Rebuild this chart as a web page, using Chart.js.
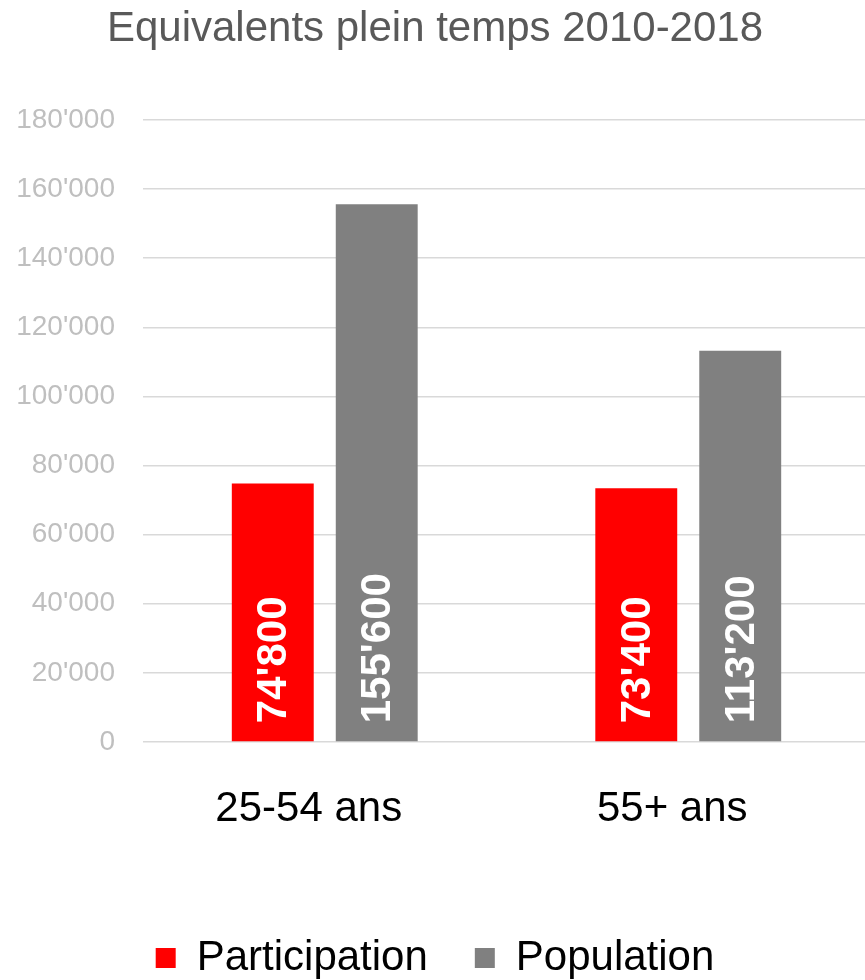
<!DOCTYPE html>
<html>
<head>
<meta charset="utf-8">
<script src="https://cdn.jsdelivr.net/npm/chart.js@4/dist/chart.umd.min.js"></script>
<style>
html,body{margin:0;padding:0;background:#fff;overflow:hidden;}
#wrap{width:870px;height:980px;position:relative;}
</style>
</head>
<body>
<div id="wrap"><canvas id="c"></canvas></div>
<script>
const categories = ["25-54 ans", "55+ ans"];
const participation = [74800, 73400];
const population = [155600, 113200];
const seriesNames = ["Participation", "Population"];
const titleText = "Equivalents plein temps 2010-2018";
const yMin = 0, yMax = 180000, yStep = 20000;

function fmt(v){ return String(v).replace(/\B(?=(\d{3})+(?!\d))/g, "'"); }

const FONT = "'Liberation Sans', Arial, sans-serif";
const LEGEND_PAD = 47;
const LEGEND_FONT = 42;

const barLabels = {
  id: 'barLabels',
  afterDatasetsDraw(chart){
    const ctx = chart.ctx;
    chart.data.datasets.forEach((ds, di) => {
      const meta = chart.getDatasetMeta(di);
      meta.data.forEach((bar, i) => {
        ctx.save();
        ctx.translate(bar.x, bar.base - 18);
        ctx.rotate(-Math.PI/2);
        ctx.fillStyle = '#ffffff';
        ctx.font = "bold 42px " + FONT;
        ctx.textAlign = 'left';
        ctx.textBaseline = 'middle';
        ctx.fillText(fmt(ds.data[i]), 0, 2);
        ctx.restore();
      });
    });
  }
};

const legendShift = {
  id: 'legendShift',
  afterLayout(chart){
    const L = chart.legend;
    if (!L) return;
    const h = L.height;
    L.top = 958 - LEGEND_PAD - LEGEND_FONT/2;
    L.bottom = L.top + h;
  }
};

new Chart(document.getElementById('c'), {
  type: 'bar',
  data: {
    labels: categories,
    datasets: [
      { label: seriesNames[0], data: participation, backgroundColor: '#ff0000',
        categoryPercentage: 0.572, barPercentage: 0.788 },
      { label: seriesNames[1], data: population, backgroundColor: '#808080',
        categoryPercentage: 0.572, barPercentage: 0.788 }
    ]
  },
  options: {
    responsive: true,
    maintainAspectRatio: false,
    animation: false,
    layout: { padding: 0 },
    plugins: {
      title: {
        display: true, text: titleText, color: '#595959',
        font: { family: FONT, size: 42, weight: 'normal' },
        padding: { top: 4, bottom: 65.6 }
      },
      legend: {
        position: 'bottom',
        labels: {
          color: '#000', boxWidth: 20, boxHeight: 20, padding: LEGEND_PAD,
          font: { family: FONT, size: LEGEND_FONT }
        }
      },
      tooltip: { enabled: false }
    },
    scales: {
      x: {
        afterFit(scale){ scale.height = 139; },
        grid: { display: false, drawTicks: false },
        border: { display: false },
        ticks: { color: '#000', padding: 42, labelOffset: -16,
          font: { family: FONT, size: 42 } }
      },
      y: {
        min: yMin, max: yMax,
        afterFit(scale){ scale.width = 143; },
        grid: { color: '#d9d9d9', lineWidth: 1.5, drawTicks: false },
        border: { display: false },
        ticks: { stepSize: yStep, color: '#bfbfbf', padding: 28,
          font: { family: FONT, size: 28 },
          callback: v => fmt(v) }
      }
    }
  },
  plugins: [barLabels, legendShift]
});
</script>
</body>
</html>
